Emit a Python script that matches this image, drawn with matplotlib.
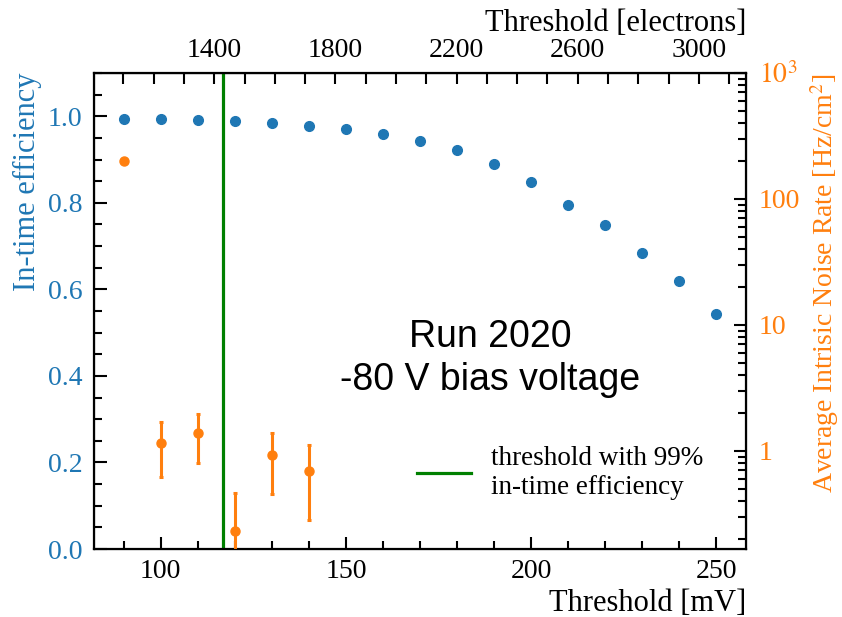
import matplotlib
matplotlib.use("Agg")
import matplotlib.pyplot as plt
from matplotlib.ticker import MultipleLocator, FixedLocator, LogLocator, NullFormatter
import numpy as np

plt.rcParams['font.family'] = ['Liberation Serif', 'DejaVu Serif']
plt.rcParams['mathtext.fontset'] = 'stix'

# data
threshold_mv = [90, 100, 110, 120, 130, 140, 150, 160, 170, 180,
                190, 200, 210, 220, 230, 240, 250]
efficiency = [0.994, 0.993, 0.991, 0.988, 0.985, 0.978, 0.971, 0.960, 0.943, 0.921,
              0.889, 0.848, 0.796, 0.749, 0.685, 0.619, 0.544]

noise_mv = [90, 100, 110, 120, 130, 140]
noise_rate = [200, 1.15, 1.38, 0.232, 0.925, 0.694]
noise_err = [0, 0.53, 0.58, 0.228, 0.47, 0.41]

electron_ticks = [1400, 1800, 2200, 2600, 3000]

thr_99 = 116.9
mv_to_electrons = 12.23

blue = '#1f77b4'
orange = '#ff7f0e'

fig = plt.figure(figsize=(8.42, 6.17), dpi=100)
ax = fig.add_axes([0.1116, 0.1102, 0.7744, 0.7715])

ax.plot(threshold_mv, efficiency, 'o', color=blue, markersize=7)
ax.axvline(thr_99, color='green', lw=2.3, label='threshold with 99%\nin-time efficiency')

ax.set_xlim(82, 258)
ax.set_ylim(0, 1.1)
ax.xaxis.set_major_locator(MultipleLocator(50))
ax.xaxis.set_minor_locator(MultipleLocator(10))
ax.yaxis.set_major_locator(MultipleLocator(0.2))
ax.yaxis.set_minor_locator(MultipleLocator(0.05))
ax.tick_params(which='both', direction='in', labelsize=20, width=1.5)
ax.tick_params(which='major', length=9)
ax.tick_params(which='minor', length=6)
ax.tick_params(axis='x', pad=7)
ax.tick_params(axis='y', labelcolor=blue, pad=8.5)
ax.set_xlabel('Threshold [mV]', fontsize=22, loc='right', labelpad=4)
ax.set_ylabel('In-time efficiency', fontsize=22, color=blue, loc='top', labelpad=4)
for s in ax.spines.values():
    s.set_linewidth(1.6)

ax2 = ax.twinx()
ax2.errorbar(noise_mv, noise_rate, yerr=noise_err, fmt='o', color=orange,
             markersize=6.5, elinewidth=2.2, capsize=1.5, capthick=2.2)
ax2.set_yscale('log')
ax2.set_ylim(0.166, 1000)
ax2.yaxis.set_minor_locator(LogLocator(base=10, subs=np.arange(2, 10), numticks=10))
ax2.yaxis.set_minor_formatter(NullFormatter())
ax2.set_yticks([1, 10, 100, 1000])
ax2.set_yticklabels(['1', '10', '100', r'$10^3$'])
ax2.tick_params(which='both', direction='in', labelsize=20, labelcolor=orange, width=1.5)
ax2.tick_params(which='major', length=9, pad=9)
ax2.tick_params(which='minor', length=6)
ax2.set_ylabel('Average Intrisic Noise Rate [Hz/cm$^2$]', fontsize=20, color=orange,
               loc='top', labelpad=6)

top = ax.secondary_xaxis('top', functions=(lambda x: x * mv_to_electrons,
                                           lambda e: e / mv_to_electrons))
top.xaxis.set_major_locator(FixedLocator(electron_ticks))
top.xaxis.set_minor_locator(MultipleLocator(100))
top.tick_params(which='both', direction='in', labelsize=20, length=8, width=1.5, pad=7.5)
top.set_xlabel('Threshold [electrons]', fontsize=22, loc='right', labelpad=5)

ax2.text(189, 10 ** (np.log10(0.166) + (np.log10(1000) - np.log10(0.166)) * 0.4),
         'Run 2020\n-80 V bias voltage', ha='center', va='center',
         fontsize=27, family='Liberation Sans', linespacing=1.25)

ax2.legend(*ax.get_legend_handles_labels(), loc='center left',
           bbox_to_anchor=(0.458, 0.16), frameon=False, fontsize=19.5,
           handlelength=2.0, handletextpad=0.75)

fig.savefig('out.png', dpi=100)
